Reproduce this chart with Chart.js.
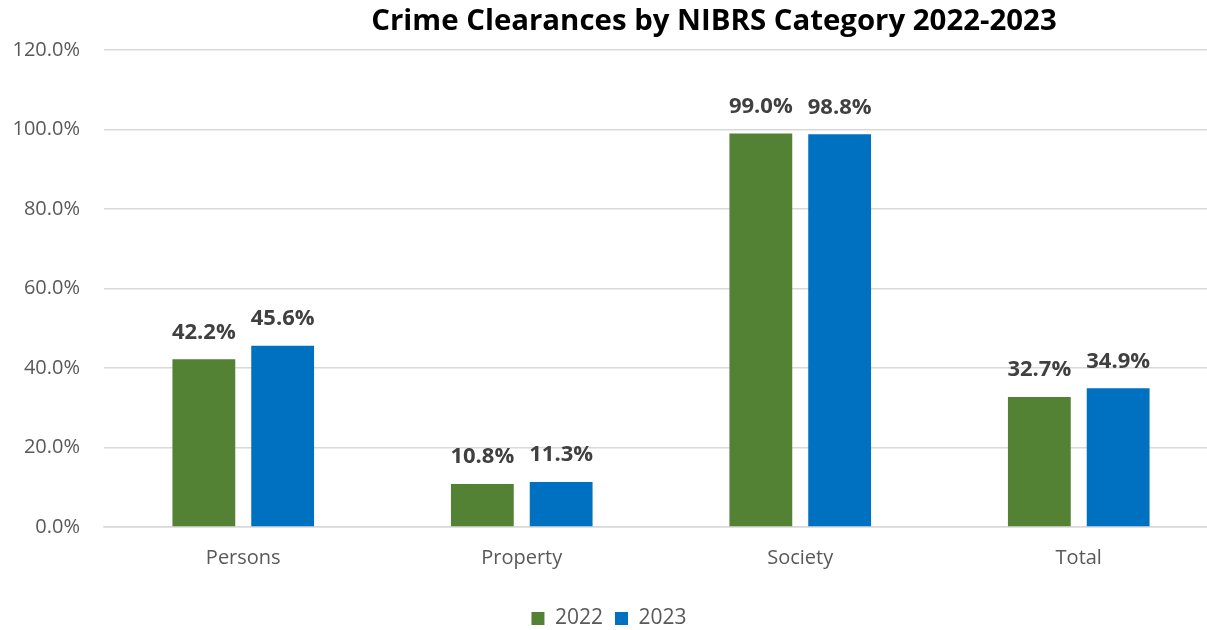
<!DOCTYPE html>
<html>
<head>
<meta charset="utf-8">
<script src="https://cdn.jsdelivr.net/npm/chart.js@4/dist/chart.umd.min.js"></script>
<style>
  html, body { margin: 0; padding: 0; background: #fff; overflow: hidden; }
  #wrap { width: 1218px; height: 630px; position: relative; }
</style>
</head>
<body>
<div id="wrap"><canvas id="chart"></canvas></div>
<script>
const categories = ['Persons', 'Property', 'Society', 'Total'];
const values2022 = [42.2, 10.8, 99.0, 32.7];
const values2023 = [45.6, 11.3, 98.8, 34.9];
const yTicks = [0, 20, 40, 60, 80, 100, 120];

const FONT = '"Open Sans", "Noto Sans", sans-serif';

// Title drawn at a fixed spot, Excel-style
const titlePlugin = {
    id: 'excelTitle',
    afterDraw(chart) {
        const ctx = chart.ctx;
        ctx.save();
        ctx.font = 'bold 29.4px ' + FONT;
        ctx.fillStyle = '#000';
        ctx.textAlign = 'center';
        ctx.textBaseline = 'middle';
        ctx.fillText('Crime Clearances by NIBRS Category 2022-2023', 714, 22);
        ctx.restore();
    }
};

// Value labels above each bar
const valueLabels = {
    id: 'valueLabels',
    afterDatasetsDraw(chart) {
        const ctx = chart.ctx;
        ctx.save();
        ctx.font = 'bold 22px ' + FONT;
        ctx.fillStyle = '#404040';
        ctx.textAlign = 'center';
        ctx.textBaseline = 'bottom';
        chart.data.datasets.forEach((ds, i) => {
            chart.getDatasetMeta(i).data.forEach((bar, j) => {
                ctx.fillText(ds.data[j].toFixed(1) + '%', bar.x, bar.y - 16);
            });
        });
        ctx.restore();
    }
};

new Chart(document.getElementById('chart').getContext('2d'), {
    type: 'bar',
    data: {
        labels: categories,
        datasets: [
            { label: '2022', data: values2022, backgroundColor: '#548235' },
            { label: '2023', data: values2023, backgroundColor: '#0070C0' }
        ]
    },
    options: {
        responsive: true,
        maintainAspectRatio: false,
        animation: false,
        categoryPercentage: 0.566,
        barPercentage: 0.797,
        layout: { padding: { top: 50, left: 0, right: 0, bottom: -9 } },
        plugins: {
            title: { display: false },
            tooltip: { enabled: false },
            legend: {
                position: 'bottom',
                labels: {
                    font: { family: FONT, size: 21 },
                    color: '#595959',
                    boxWidth: 13,
                    boxHeight: 13,
                    padding: 12
                }
            }
        },
        scales: {
            y: {
                min: 0,
                max: 120,
                afterBuildTicks(axis) { axis.ticks = yTicks.map(v => ({ value: v })); },
                afterFit(axis) { axis.width = 104; },
                border: { display: false },
                grid: { color: '#d9d9d9', lineWidth: 1.5, drawTicks: false },
                ticks: {
                    padding: 24,
                    color: '#595959',
                    font: { family: FONT, size: 20 },
                    callback: v => v.toFixed(1) + '%'
                }
            },
            x: {
                afterFit(axis) { axis.height = 69; },
                border: { color: '#d9d9d9', width: 1.5 },
                grid: { display: false },
                ticks: {
                    padding: 11,
                    color: '#595959',
                    font: { family: FONT, size: 20 }
                }
            }
        }
    },
    plugins: [titlePlugin, valueLabels]
});
</script>
</body>
</html>
